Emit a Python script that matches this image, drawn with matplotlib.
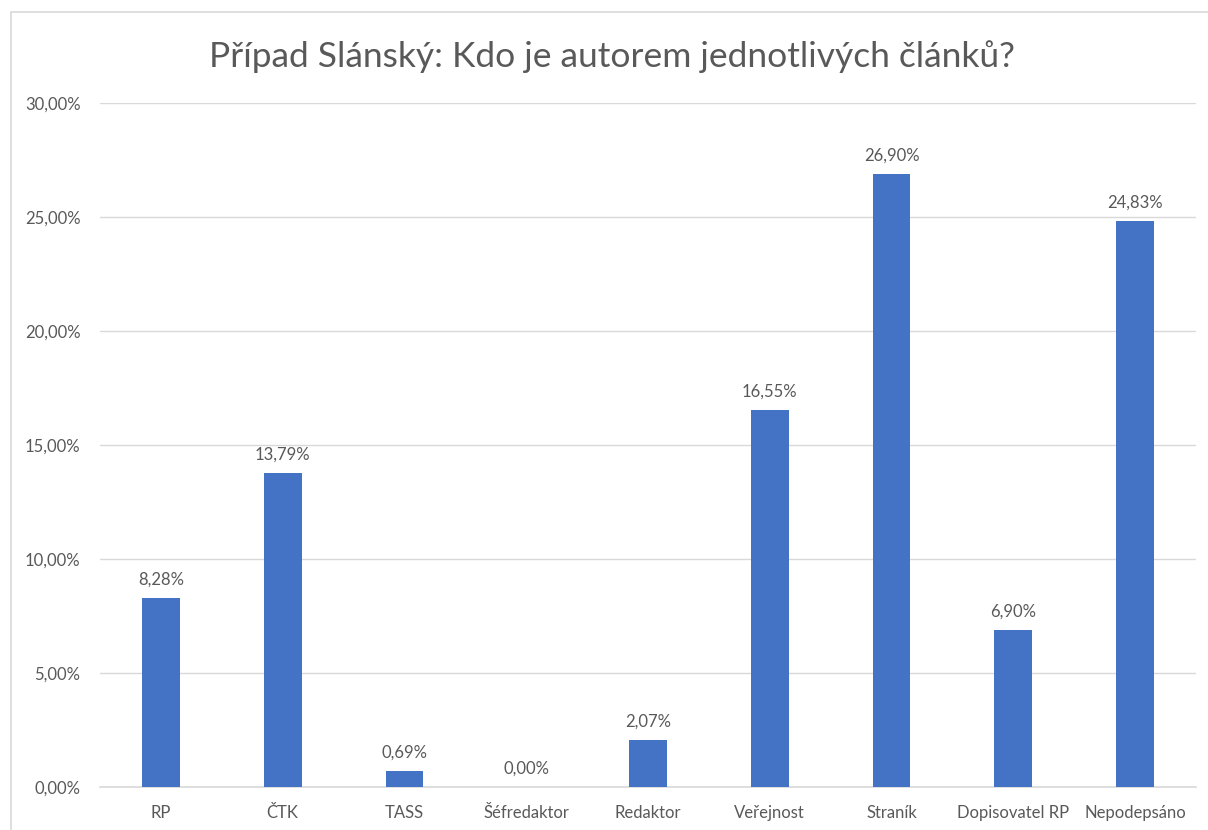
import matplotlib.pyplot as plt
from matplotlib.patches import Rectangle

categories = ['RP', 'ČTK', 'TASS', 'Šéfredaktor', 'Redaktor', 'Veřejnost',
              'Straník', 'Dopisovatel RP', 'Nepodepsáno']
values = [8.28, 13.79, 0.69, 0.00, 2.07, 16.55, 26.90, 6.90, 24.83]
yticks = [0, 5, 10, 15, 20, 25, 30]

txt = '#595959'
plt.rcParams['font.family'] = ['Lato', 'DejaVu Sans']

fig = plt.figure(figsize=(12.08, 8.3), dpi=100)
ax = fig.add_axes([100 / 1208, 43 / 830, 1096 / 1208, 684 / 830])

# chart border (right and bottom edges fall outside the picture)
fig.patches.append(Rectangle((11 / 1208, -0.01), 1.05, (830 - 12) / 830 + 0.01,
                             transform=fig.transFigure, fill=False,
                             edgecolor='#D9D9D9', linewidth=1.2))

x = range(len(categories))
bars = ax.bar(x, values, width=0.31, color='#4472C4', zorder=3)

for i, v in enumerate(values):
    ax.text(i, v + 0.45, f'{v:.2f}%'.replace('.', ','), ha='center', va='bottom',
            fontsize=12, color=txt)

ax.set_xlim(-0.5, len(categories) - 0.5)
ax.set_ylim(0, 30)
ax.set_yticks(yticks)
ax.set_yticklabels([f'{t:.2f}%'.replace('.', ',') for t in yticks], fontsize=12, color=txt)
ax.set_xticks(list(x))
ax.set_xticklabels(categories, fontsize=12, color=txt)
ax.tick_params(length=0)
ax.tick_params(axis='y', pad=14)
ax.tick_params(axis='x', pad=13)
ax.grid(axis='y', color='#D9D9D9', linewidth=1, zorder=0)
for s in ['top', 'right', 'left']:
    ax.spines[s].set_visible(False)
ax.spines['bottom'].set_color('#D9D9D9')
ax.spines['bottom'].set_linewidth(1.2)

fig.text(612 / 1208, 1 - 57 / 830, 'Případ Slánský: Kdo je autorem jednotlivých článků?',
         ha='center', va='center', fontsize=25.5, color=txt)

fig.savefig('out.png', dpi=100)
